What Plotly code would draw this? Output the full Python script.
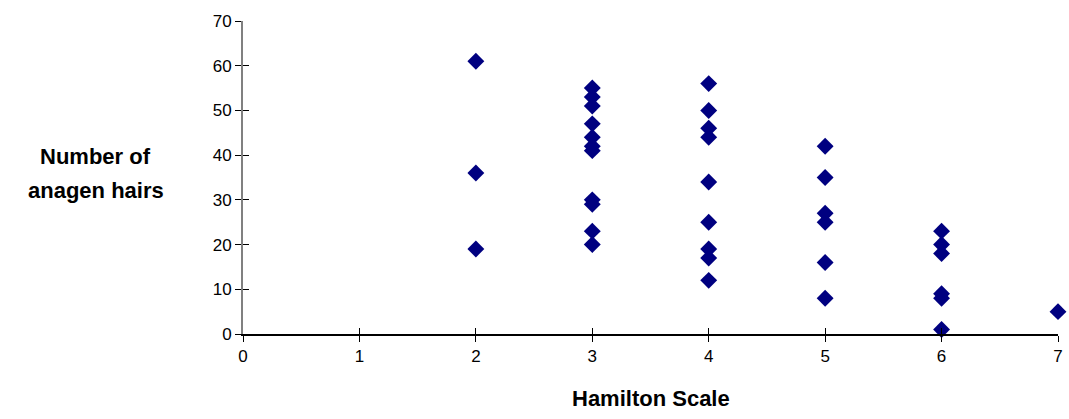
import plotly.graph_objects as go

# Hamilton scale (x) and number of anagen hairs (y)
hamilton = [2, 2, 2,
            3, 3, 3, 3, 3, 3, 3, 3, 3, 3, 3,
            4, 4, 4, 4, 4, 4, 4, 4, 4,
            5, 5, 5, 5, 5, 5,
            6, 6, 6, 6, 6, 6,
            7]
anagen = [61, 36, 19,
          55, 53, 51, 47, 44, 42, 41, 30, 29, 23, 20,
          56, 50, 46, 44, 34, 25, 19, 17, 12,
          42, 35, 27, 25, 16, 8,
          23, 20, 18, 9, 8, 1,
          5]

x_ticks = [0, 1, 2, 3, 4, 5, 6, 7]
y_ticks = [0, 10, 20, 30, 40, 50, 60, 70]

FONT = "Liberation Sans, Arial, sans-serif"

fig = go.Figure()
fig.add_trace(go.Scatter(
    x=hamilton, y=anagen, mode="markers",
    marker=dict(symbol="diamond", size=13, color="#000080", line=dict(width=0)),
    cliponaxis=False, showlegend=False, hoverinfo="x+y"))
# invisible trace to anchor the overlay axes (inside tick marks)
fig.add_trace(go.Scatter(x=[None], y=[None], xaxis="x2", yaxis="y2",
                         showlegend=False, hoverinfo="skip"))

fig.update_layout(
    width=1069, height=419,
    margin=dict(l=243, r=11, t=21, b=85),
    paper_bgcolor="white", plot_bgcolor="white",
    font=dict(family=FONT, size=17, color="black"),
    xaxis=dict(range=[0, 7], tickvals=x_ticks, showgrid=False, zeroline=False,
               showline=True, linecolor="black", linewidth=1.5,
               ticks="outside", ticklen=6, tickcolor="black", tickwidth=1,
               tickfont=dict(size=17), fixedrange=True, automargin=False,
               ticklabeloverflow="allow"),
    yaxis=dict(range=[0, 70], tickvals=y_ticks, showgrid=False, zeroline=False,
               showline=True, linecolor="#808080", linewidth=2,
               ticks="outside", ticklen=6, tickcolor="black", tickwidth=1,
               tickfont=dict(size=17), fixedrange=True, automargin=False),
    xaxis2=dict(range=[0, 7], tickvals=x_ticks, overlaying="x", anchor="y2",
                side="bottom", showticklabels=False, showgrid=False,
                zeroline=False, showline=False, ticks="inside", ticklen=6,
                tickcolor="black", tickwidth=1, automargin=False),
    yaxis2=dict(range=[0, 70], tickvals=y_ticks, overlaying="y", anchor="x2",
                side="left", showticklabels=False, showgrid=False,
                zeroline=False, showline=False, ticks="inside", ticklen=6,
                tickcolor="black", tickwidth=1, automargin=False),
    annotations=[
        dict(text="<b>Hamilton Scale</b>", xref="paper", yref="paper",
             x=0.5, y=-0.2045, xanchor="center", yanchor="middle",
             showarrow=False, font=dict(size=22, family=FONT)),
        dict(text="<b>Number of</b>", xref="paper", yref="paper",
             x=-0.1804, y=0.5655, xanchor="center", yanchor="middle",
             showarrow=False, font=dict(size=22, family=FONT)),
        dict(text="<b>anagen hairs</b>", xref="paper", yref="paper",
             x=-0.1804, y=0.4569, xanchor="center", yanchor="middle",
             showarrow=False, font=dict(size=22, family=FONT)),
    ],
)

fig.write_html(
    "out.html",
    config={"displayModeBar": False},
    post_script="document.body.style.margin='0';document.body.style.overflow='hidden';",
)
